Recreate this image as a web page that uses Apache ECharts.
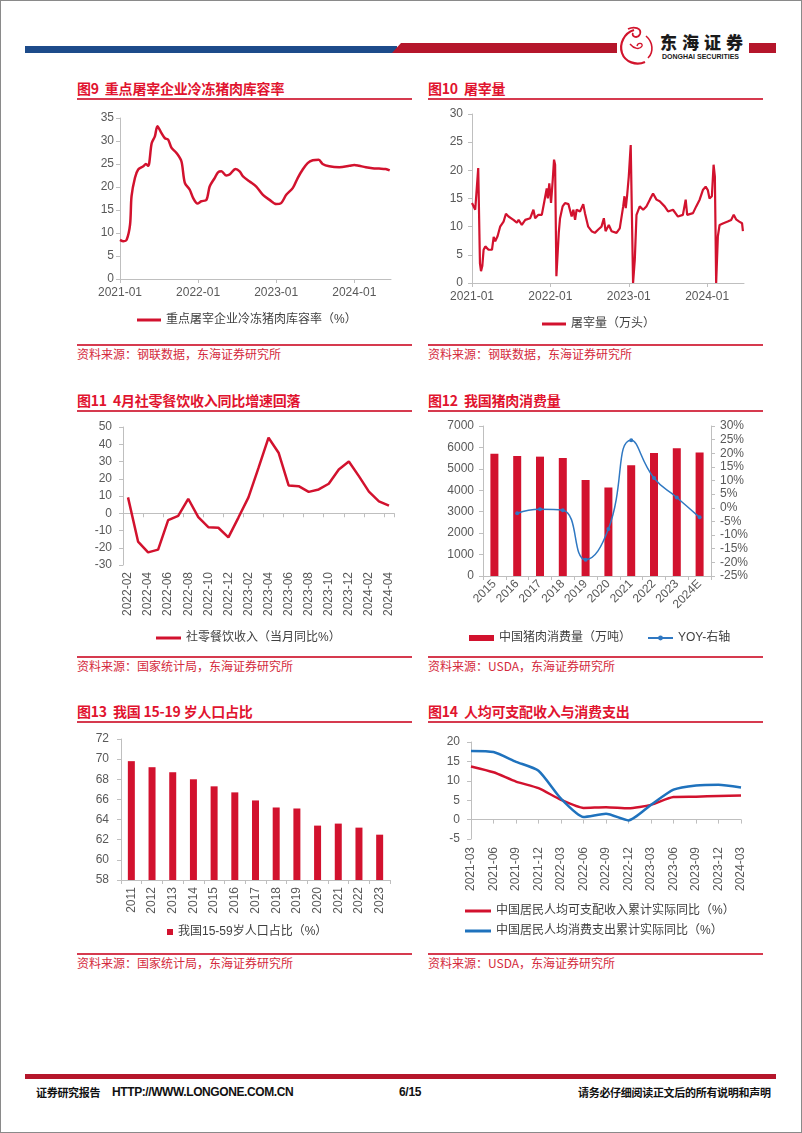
<!DOCTYPE html>
<html><head><meta charset="utf-8">
<script src="https://cdn.jsdelivr.net/npm/echarts@6/dist/echarts.min.js"></script>
<style>
html,body{margin:0;padding:0;background:#fff;}
#page{position:relative;width:802px;height:1133px;overflow:hidden;font-family:'Liberation Sans','Noto Sans CJK SC',sans-serif;background:#fff;}
#chart{position:absolute;left:0;top:0;width:802px;height:1133px;}
.t{position:absolute;white-space:nowrap;}
.title{font-family:'Noto Sans CJK SC',sans-serif;font-weight:700;font-size:14px;color:#e1142f;line-height:16px;letter-spacing:-0.2px;}
.rule{position:absolute;height:2px;background:#d63a4f;}
.src{font-family:'Noto Sans CJK SC',sans-serif;font-size:12px;color:#d42a3c;line-height:14px;}
.foot{font-weight:700;font-size:11px;color:#111;line-height:14px;letter-spacing:-0.3px;}
#border{position:absolute;left:0;top:0;width:802px;height:1133px;box-sizing:border-box;border:1px solid #8a8a8a;pointer-events:none;}
</style></head>
<body>
<div id="page">
  <!-- header -->
  <div style="position:absolute;left:25px;top:46px;width:372px;height:7px;background:#1d4b8a;"></div>
  <svg style="position:absolute;left:0;top:0" width="802" height="80">
    <polygon points="392,53 401,43 617,43 617,53" fill="#b5162b"/>
    <rect x="749" y="43" width="27" height="10" fill="#b5162b"/>
    <path d="M634,30 C624,33 619,44 622,53 C625,62 636,66 645,62" stroke="#d2142c" stroke-width="2.2" fill="none"/>
    <path d="M628,29 C634,26 642,28 640,34 C638,39 631,37 633,33" stroke="#d2142c" stroke-width="1.8" fill="none"/>
    <path d="M646,36 C653,42 654,52 648,58" stroke="#d2142c" stroke-width="1.6" fill="none"/>
    <path d="M630,44 C634,49 640,50 642,46 C643,43 638,42 637,46" stroke="#d2142c" stroke-width="1.4" fill="none"/>
  </svg>
  <div class="t" style="left:660px;top:33px;font-family:'Noto Sans CJK SC',sans-serif;font-weight:900;font-size:17px;line-height:18px;letter-spacing:5px;color:#1a1a1a;">东海证券</div>
  <div class="t" style="left:662px;top:53px;font-family:'Liberation Sans',sans-serif;font-weight:700;font-size:7px;line-height:8px;color:#1a1a1a;">DONGHAI SECURITIES</div>

  <!-- row 1 -->
  <div class="t title" style="left:77px;top:80px;">图9&nbsp;&nbsp;重点屠宰企业冷冻猪肉库容率</div>
  <div class="rule" style="left:77px;top:98px;width:335px;"></div>
  <div class="t title" style="left:428px;top:80px;">图10&nbsp;&nbsp;屠宰量</div>
  <div class="rule" style="left:428px;top:98px;width:335px;"></div>
  <div class="rule" style="left:77px;top:344px;width:335px;"></div>
  <div class="rule" style="left:428px;top:344px;width:335px;"></div>
  <div class="t src" style="left:77px;top:347px;">资料来源：钢联数据，东海证券研究所</div>
  <div class="t src" style="left:428px;top:347px;">资料来源：钢联数据，东海证券研究所</div>

  <!-- row 2 -->
  <div class="t title" style="left:77px;top:392px;">图11&nbsp;&nbsp;4月社零餐饮收入同比增速回落</div>
  <div class="rule" style="left:77px;top:410px;width:335px;"></div>
  <div class="t title" style="left:428px;top:392px;">图12&nbsp;&nbsp;我国猪肉消费量</div>
  <div class="rule" style="left:428px;top:410px;width:335px;"></div>
  <div class="rule" style="left:77px;top:656px;width:335px;"></div>
  <div class="rule" style="left:428px;top:656px;width:335px;"></div>
  <div class="t src" style="left:77px;top:659px;">资料来源：国家统计局，东海证券研究所</div>
  <div class="t src" style="left:428px;top:659px;">资料来源：USDA，东海证券研究所</div>

  <!-- row 3 -->
  <div class="t title" style="left:77px;top:703px;">图13&nbsp;&nbsp;我国 15-19 岁人口占比</div>
  <div class="rule" style="left:77px;top:721px;width:335px;"></div>
  <div class="t title" style="left:428px;top:703px;">图14&nbsp;&nbsp;人均可支配收入与消费支出</div>
  <div class="rule" style="left:428px;top:721px;width:335px;"></div>
  <div class="rule" style="left:77px;top:953px;width:335px;"></div>
  <div class="rule" style="left:428px;top:953px;width:335px;"></div>
  <div class="t src" style="left:77px;top:956px;">资料来源：国家统计局，东海证券研究所</div>
  <div class="t src" style="left:428px;top:956px;">资料来源：USDA，东海证券研究所</div>

  <!-- footer -->
  <div style="position:absolute;left:25px;top:1074px;width:751px;height:5px;background:#b5162b;"></div>
  <div class="t foot" style="left:36px;top:1085px;font-family:'Noto Sans CJK SC',sans-serif;">证券研究报告</div>
  <div class="t foot" style="left:112px;top:1085px;font-family:'Liberation Sans',sans-serif;font-size:12px;letter-spacing:-0.4px;">HTTP://WWW.LONGONE.COM.CN</div>
  <div class="t foot" style="left:399px;top:1085px;font-family:'Liberation Sans',sans-serif;font-size:12px;">6/15</div>
  <div class="t foot" style="left:578px;top:1085px;font-family:'Noto Sans CJK SC',sans-serif;">请务必仔细阅读正文后的所有说明和声明</div>

  <div id="chart"></div>
  <div id="border"></div>
</div>
<script>
// ---------- data ----------
// 图9 重点屠宰企业冷冻猪肉库容率 (%)
const c9Dates = ['2021-01-01','2021-01-17','2021-02-01','2021-02-17','2021-02-24','2021-03-12','2021-03-27','2021-04-20','2021-05-02','2021-05-13','2021-05-29','2021-06-13','2021-06-25','2021-07-14','2021-07-30','2021-08-14','2021-08-30','2021-09-22','2021-10-15','2021-10-31','2021-11-23','2021-12-09','2021-12-29','2022-01-16','2022-02-09','2022-02-24','2022-03-20','2022-04-04','2022-04-20','2022-05-13','2022-05-28','2022-06-25','2022-07-14','2022-07-30','2022-08-30','2022-09-30','2022-10-31','2022-12-01','2023-01-01','2023-01-24','2023-02-17','2023-03-20','2023-04-12','2023-05-05','2023-05-28','2023-06-21','2023-07-19','2023-08-06','2023-09-06','2023-10-23','2023-12-09','2024-01-01','2024-01-24','2024-02-24','2024-03-26','2024-04-26','2024-05-27','2024-06-15'];
const c9Values = [8.5,8.2,8.5,11.8,18.0,22.0,23.8,24.5,25.0,24.6,29.5,31.0,33.2,31.7,30.6,30.3,28.5,27.4,25.6,20.9,19.4,17.6,16.4,16.9,17.2,20.1,22.0,23.2,23.4,22.5,22.7,23.9,23.4,22.3,21.2,20.1,18.3,17.2,16.3,16.5,18.3,19.8,22.0,23.8,25.2,25.8,25.9,25.0,24.5,24.3,24.6,24.8,24.6,24.3,24.1,24.0,23.9,23.6];

// 图10 屠宰量 (万头)
const c10Dates = ['2021-01-01','2021-01-09','2021-01-16','2021-01-24','2021-01-30','2021-02-04','2021-02-07','2021-02-12','2021-02-18','2021-02-24','2021-03-04','2021-03-12','2021-03-19','2021-04-04','2021-04-12','2021-04-19','2021-04-30','2021-05-12','2021-05-28','2021-06-08','2021-06-20','2021-07-13','2021-07-29','2021-08-06','2021-08-21','2021-09-06','2021-09-29','2021-10-14','2021-10-22','2021-11-06','2021-11-22','2021-12-04','2021-12-15','2021-12-20','2021-12-27','2022-01-04','2022-01-12','2022-01-18','2022-01-23','2022-01-29','2022-02-04','2022-02-09','2022-02-15','2022-02-27','2022-03-10','2022-03-26','2022-04-02','2022-04-10','2022-04-18','2022-04-26','2022-05-03','2022-05-19','2022-06-03','2022-06-11','2022-06-26','2022-07-12','2022-07-27','2022-08-12','2022-08-27','2022-09-07','2022-09-15','2022-09-30','2022-10-13','2022-11-05','2022-11-20','2022-12-06','2022-12-12','2022-12-18','2022-12-24','2023-01-01','2023-01-10','2023-01-17','2023-01-21','2023-01-29','2023-02-06','2023-02-21','2023-03-09','2023-03-24','2023-04-09','2023-04-24','2023-05-10','2023-05-25','2023-06-17','2023-07-03','2023-07-26','2023-08-18','2023-09-10','2023-09-23','2023-09-30','2023-10-27','2023-11-11','2023-11-27','2023-12-12','2023-12-25','2024-01-04','2024-01-12','2024-01-23','2024-01-31','2024-02-06','2024-02-12','2024-02-20','2024-02-28','2024-03-17','2024-04-06','2024-04-22','2024-05-04','2024-05-15','2024-05-30','2024-06-12','2024-06-16'];
const c10Values = [14.2,13.9,13.0,13.0,20.4,20.3,3.5,2.1,3.0,5.9,6.5,6.8,5.9,5.9,8.2,7.4,8.3,10.0,10.9,12.3,11.8,11.2,10.7,11.2,10.3,11.2,11.5,13.0,11.5,12.1,12.1,14.5,16.8,15.0,17.7,14.2,18.3,21.9,21.0,1.2,1.2,8.9,11.5,13.6,14.2,14.0,14.3,11.8,13.0,11.2,13.0,12.7,14.0,12.4,10.0,9.2,8.9,9.5,10.0,11.5,9.2,10.3,9.2,8.9,9.7,13.6,15.4,13.3,15.4,18.9,24.5,24.5,0.0,4.1,12.1,13.6,13.0,13.6,14.8,15.9,14.8,14.5,13.6,12.7,13.0,11.8,12.1,14.8,12.1,12.4,13.6,14.8,16.5,17.1,16.5,15.0,15.4,21.0,18.9,0.0,8.3,10.3,10.6,10.9,11.2,12.1,11.3,10.9,10.6,9.2];

// 图11 社零餐饮收入（当月同比%）
const c11Months = ['2022-02','2022-03','2022-04','2022-05','2022-06','2022-07','2022-08','2022-09','2022-10','2022-11','2022-12','2023-01','2023-02','2023-03','2023-04','2023-05','2023-06','2023-07','2023-08','2023-09','2023-10','2023-11','2023-12','2024-01','2024-02','2024-03','2024-04'];
const c11Values = [9.2,-16.4,-22.7,-21.1,-4.0,-1.5,8.4,-2.3,-8.1,-8.4,-14.0,-2.5,9.2,26.3,43.8,35.1,16.1,15.7,12.4,13.8,17.1,25.4,30.0,21.5,12.5,6.9,4.4];

// 图12 中国猪肉消费量（万吨） & YOY
const c12Years = ['2015','2016','2017','2018','2019','2020','2021','2022','2023','2024E'];
const c12Consumption = [5710,5600,5570,5510,4475,4130,5170,5740,5960,5760];
const c12Yoy = [null,-2.0,-0.5,-0.9,-19.0,-7.8,24.8,10.9,3.8,-3.5];

// 图13 我国15-59岁人口占比（%）
const c13Years = ['2011','2012','2013','2014','2015','2016','2017','2018','2019','2020','2021','2022','2023'];
const c13Values = [69.8,69.2,68.7,68.0,67.3,66.7,65.9,65.2,65.1,63.4,63.6,63.2,62.5];

// 图14 人均可支配收入 / 消费支出 累计实际同比（%）
const c14Quarters = ['2021-03','2021-06','2021-09','2021-12','2022-03','2022-06','2022-09','2022-12','2023-03','2023-06','2023-09','2023-12','2024-03'];
const c14Income = [13.7,12.2,9.8,8.1,5.1,3.0,3.2,2.9,3.8,5.8,5.9,6.1,6.2];
const c14Consumption = [17.7,17.4,14.9,12.6,5.4,0.7,1.5,-0.2,3.8,7.7,8.8,9.0,8.3];

// ---------- helpers ----------
function decYear(s){
  const p = s.split('-').map(Number);
  const t = Date.UTC(p[0], p[1]-1, p[2]);
  const t0 = Date.UTC(p[0],0,1), t1 = Date.UTC(p[0]+1,0,1);
  return p[0] + (t - t0)/(t1 - t0);
}
const pairs = (d, v) => d.map((x,i) => [decYear(x), v[i]]);

const RED = '#d2122e', BLUE = '#1f72bd', BLUE2 = '#2f78c2';
const FONT = "'Liberation Sans','Noto Sans CJK SC',sans-serif";
const LBL = {color:'#595959', fontSize:12, fontFamily:FONT};
const AXL = {show:true, lineStyle:{color:'#bfbfbf', width:1}};
const TICK = {show:true, length:4, lineStyle:{color:'#bfbfbf'}};
const NOSPLIT = {show:false};
const yearFmt = v => (Math.abs(v - Math.round(v)) < 1e-6 ? Math.round(v) + '-01' : '');
const plain = v => String(v);
const legendText = {color:'#404040', fontSize:12, fontFamily:FONT, lineHeight:14};

const option = {
  animation:false,
  textStyle:{fontFamily:FONT},
  grid:[
    {left:120, top:118, width:271, height:161},
    {left:472, top:114, width:272, height:169},
    {left:123, top:427, width:271, height:138},
    {left:483, top:426, width:228, height:150},
    {left:121, top:739, width:269, height:141},
    {left:471, top:742, width:270, height:97}
  ],
  xAxis:[
    {gridIndex:0, type:'value', min:2021, max:2024.47, interval:1, axisLine:AXL, axisTick:TICK, splitLine:NOSPLIT,
      axisLabel:Object.assign({}, LBL, {formatter:yearFmt, showMaxLabel:false, margin:8})},
    {gridIndex:1, type:'value', min:2021, max:2024.47, interval:1, axisLine:AXL, axisTick:TICK, splitLine:NOSPLIT,
      axisLabel:Object.assign({}, LBL, {formatter:yearFmt, showMaxLabel:false, margin:8})},
    {gridIndex:2, type:'category', data:c11Months, position:'top', axisLine:Object.assign({onZero:true}, AXL),
      axisTick:Object.assign({}, TICK, {inside:true, interval:1}), axisLabel:{show:false}, splitLine:NOSPLIT},
    {gridIndex:2, type:'category', data:c11Months, position:'bottom', axisLine:{show:false, onZero:false},
      axisTick:{show:false}, axisLabel:Object.assign({}, LBL, {rotate:90, interval:1, margin:7}), splitLine:NOSPLIT},
    {gridIndex:3, type:'category', data:c12Years, axisLine:AXL, axisTick:TICK,
      axisLabel:Object.assign({}, LBL, {rotate:45, interval:0, margin:6}), splitLine:NOSPLIT},
    {gridIndex:4, type:'category', data:c13Years, axisLine:AXL, axisTick:TICK,
      axisLabel:Object.assign({}, LBL, {rotate:90, interval:0, margin:7}), splitLine:NOSPLIT},
    {gridIndex:5, type:'category', data:c14Quarters, boundaryGap:false, position:'top', axisLine:Object.assign({onZero:true}, AXL),
      axisTick:Object.assign({}, TICK, {inside:true, interval:0}), axisLabel:{show:false}, splitLine:NOSPLIT},
    {gridIndex:5, type:'category', data:c14Quarters, boundaryGap:false, position:'bottom', axisLine:{show:false, onZero:false},
      axisTick:{show:false}, axisLabel:Object.assign({}, LBL, {rotate:90, interval:0, margin:8}), splitLine:NOSPLIT}
  ],
  yAxis:[
    {gridIndex:0, type:'value', min:0, max:35, interval:5, axisLine:AXL, axisTick:TICK, splitLine:NOSPLIT, axisLabel:Object.assign({}, LBL, {margin:6, formatter:plain})},
    {gridIndex:1, type:'value', min:0, max:30, interval:5, axisLine:AXL, axisTick:TICK, splitLine:NOSPLIT, axisLabel:Object.assign({}, LBL, {margin:9, formatter:plain})},
    {gridIndex:2, type:'value', min:-30, max:50, interval:10, axisLine:AXL, axisTick:TICK, splitLine:NOSPLIT, axisLabel:Object.assign({}, LBL, {margin:11, formatter:plain})},
    {gridIndex:3, type:'value', min:0, max:7000, interval:1000, axisLine:AXL, axisTick:TICK, splitLine:NOSPLIT, axisLabel:Object.assign({}, LBL, {margin:9, formatter:plain})},
    {gridIndex:3, type:'value', position:'right', min:-25, max:30, interval:5, axisLine:AXL, axisTick:TICK, splitLine:NOSPLIT,
      axisLabel:Object.assign({}, LBL, {margin:9, formatter:v => v + '%'})},
    {gridIndex:4, type:'value', min:58, max:72, interval:2, axisLine:AXL, axisTick:TICK, splitLine:NOSPLIT, axisLabel:Object.assign({}, LBL, {margin:12, formatter:plain})},
    {gridIndex:5, type:'value', min:-5, max:20, interval:5, axisLine:AXL, axisTick:TICK, splitLine:NOSPLIT, axisLabel:Object.assign({}, LBL, {margin:11, formatter:plain})}
  ],
  legend:[
    {left:137, top:313, padding:0, icon:'rect', itemWidth:24, itemHeight:3, textStyle:legendText, selectedMode:false,
      data:['重点屠宰企业冷冻猪肉库容率（%）']},
    {left:542, top:317, padding:0, icon:'rect', itemWidth:24, itemHeight:3, textStyle:legendText, selectedMode:false,
      data:['屠宰量（万头）']},
    {left:156, top:631, padding:0, icon:'rect', itemWidth:25, itemHeight:3, textStyle:legendText, selectedMode:false,
      data:['社零餐饮收入（当月同比%）']},
    {left:469, top:631, padding:0, itemWidth:25, itemHeight:6, itemGap:16, textStyle:legendText, selectedMode:false,
      data:[{name:'中国猪肉消费量（万吨）', icon:'rect'}, {name:'YOY-右轴'}]},
    {left:167, top:925, padding:0, icon:'rect', itemWidth:6, itemHeight:6, textStyle:legendText, selectedMode:false,
      data:['我国15-59岁人口占比（%）']},
    {left:465, top:904, padding:0, orient:'vertical', icon:'rect', itemWidth:26, itemHeight:3, itemGap:6, textStyle:legendText, selectedMode:false,
      data:['中国居民人均可支配收入累计实际同比（%）','中国居民人均消费支出累计实际同比（%）']}
  ],
  series:[
    {name:'重点屠宰企业冷冻猪肉库容率（%）', type:'line', xAxisIndex:0, yAxisIndex:0, data:pairs(c9Dates, c9Values),
      showSymbol:false, smooth:0.3, lineStyle:{color:RED, width:2.5}, itemStyle:{color:RED}},
    {name:'屠宰量（万头）', type:'line', xAxisIndex:1, yAxisIndex:1, data:pairs(c10Dates, c10Values),
      showSymbol:false, lineStyle:{color:RED, width:2.2}, itemStyle:{color:RED}},
    {name:'社零餐饮收入（当月同比%）', type:'line', xAxisIndex:3, yAxisIndex:2, data:c11Values,
      showSymbol:false, lineStyle:{color:RED, width:2.5}, itemStyle:{color:RED}},
    {name:'中国猪肉消费量（万吨）', type:'bar', xAxisIndex:4, yAxisIndex:3, data:c12Consumption,
      barWidth:8, itemStyle:{color:RED}},
    {name:'YOY-右轴', type:'line', xAxisIndex:4, yAxisIndex:4, data:c12Yoy, smooth:0.5,
      symbol:'circle', symbolSize:4, showSymbol:true, lineStyle:{color:BLUE2, width:1.5}, itemStyle:{color:BLUE2}},
    {name:'我国15-59岁人口占比（%）', type:'bar', xAxisIndex:5, yAxisIndex:5, data:c13Values,
      barWidth:7, itemStyle:{color:RED}},
    {name:'中国居民人均可支配收入累计实际同比（%）', type:'line', xAxisIndex:7, yAxisIndex:6, data:c14Income,
      showSymbol:false, smooth:0.2, lineStyle:{color:RED, width:2.5}, itemStyle:{color:RED}},
    {name:'中国居民人均消费支出累计实际同比（%）', type:'line', xAxisIndex:7, yAxisIndex:6, data:c14Consumption,
      showSymbol:false, smooth:0.2, lineStyle:{color:BLUE, width:2.5}, itemStyle:{color:BLUE}}
  ]
};
const chart = echarts.init(document.getElementById('chart'), null, {renderer:'canvas'});
chart.setOption(option);
</script>
</body></html>
